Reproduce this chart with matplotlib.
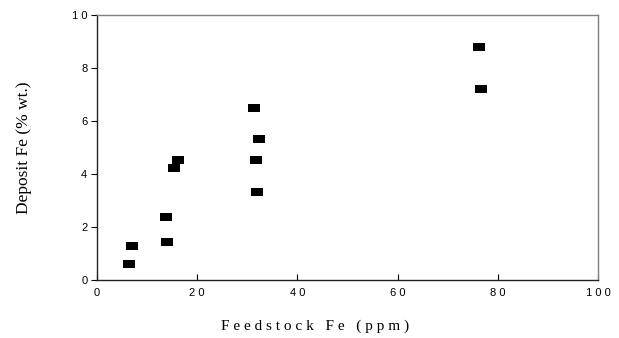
import numpy as np
import matplotlib.pyplot as plt

# feedstock Fe (ppm) vs deposit Fe (% wt.)
feed_fe = [6.3, 6.9, 13.8, 14.0, 15.4, 16.2, 31.4, 32.3, 31.7, 32.0, 76.3, 76.7]
deposit_fe = [0.60, 1.28, 2.39, 1.42, 4.21, 4.52, 6.50, 5.33, 4.53, 3.33, 8.79, 7.20]

x_ticks = [0, 20, 40, 60, 80, 100]
y_ticks = [0, 2, 4, 6, 8, 10]

def spaced(s):
    return ' '.join(s)

fig = plt.figure(figsize=(6.19, 3.38), dpi=100)
ax = fig.add_axes([0.1567, 0.1716, 0.8094, 0.7840])

# flat rectangle marker
rect = [(-1, -0.6), (1, -0.6), (1, 0.6), (-1, 0.6), (-1, -0.6)]
ax.plot(feed_fe, deposit_fe, linestyle='none', marker=rect, markersize=8.6,
        color='black', markeredgewidth=0)

ax.set_xlim(0, 100)
ax.set_ylim(0, 10)
ax.set_xticks(x_ticks)
ax.set_yticks(y_ticks)
ax.set_xticklabels([spaced(str(t)) for t in x_ticks], fontsize=8, family='Liberation Sans')
ax.set_yticklabels([spaced(str(t)) for t in y_ticks], fontsize=8, family='Liberation Sans')
ax.tick_params(axis='x', direction='in', length=4, width=0.8, pad=6)
ax.tick_params(axis='y', direction='out', length=4, width=0.8, pad=3)

for side in ['top', 'right']:
    ax.spines[side].set_color('#808080')
    ax.spines[side].set_linewidth(1.0)
for side in ['left', 'bottom']:
    ax.spines[side].set_color('#222222')
    ax.spines[side].set_linewidth(1.0)

ax.set_xlabel('F e e d s t o c k   F e   ( p p m )', fontsize=11,
              family='Liberation Serif')
ax.xaxis.set_label_coords((315 - 97) / 501, -0.15)
ax.set_ylabel('Deposit Fe (% wt.)', fontsize=12.5, family='Liberation Serif')
ax.yaxis.set_label_coords(-0.13, (280 - 148) / 265)

fig.savefig('out.png', dpi=100)
